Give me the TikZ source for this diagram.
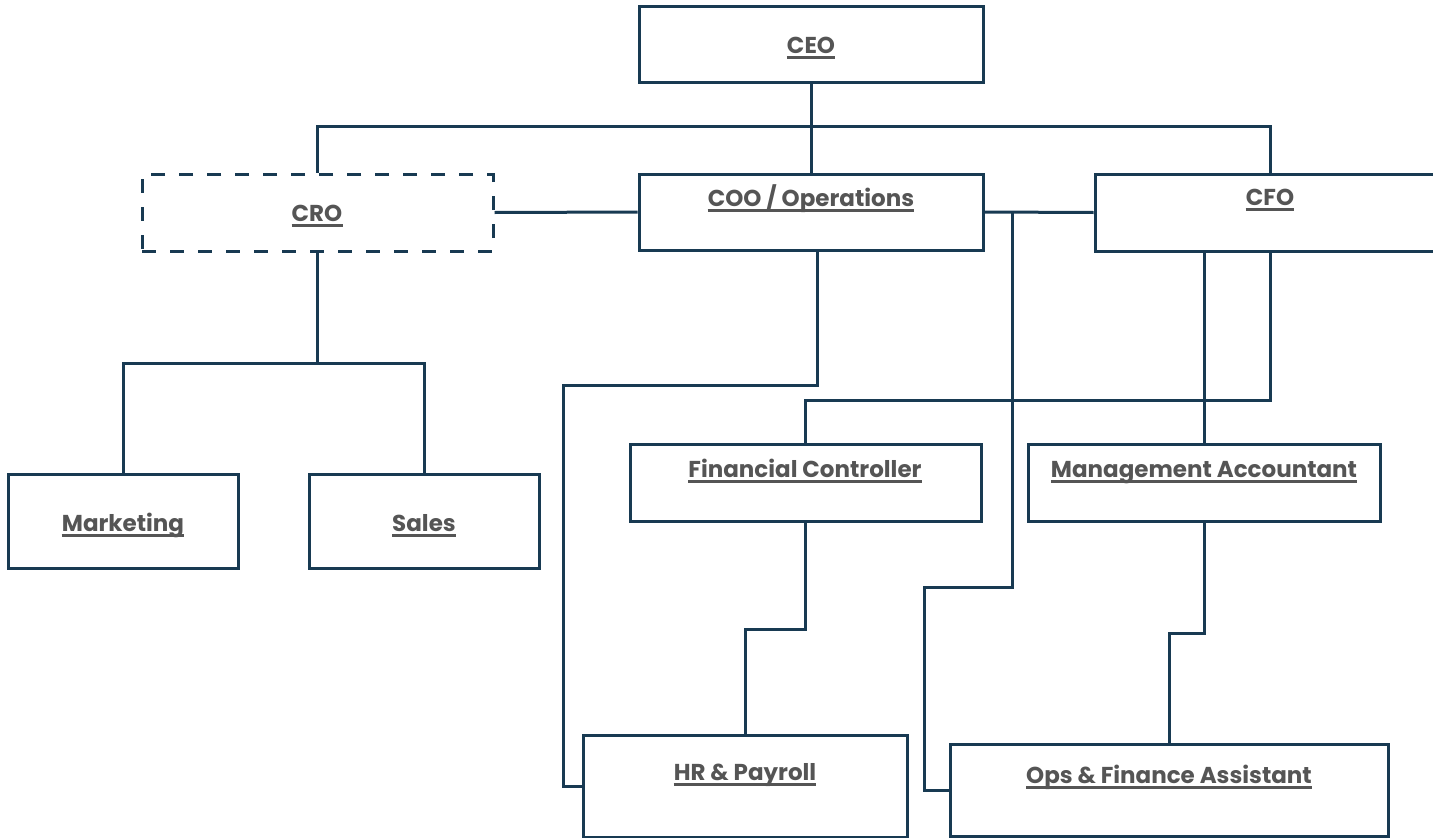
\documentclass[tikz,border=0pt]{standalone}
\usepackage{fontspec}
\setmainfont{Poppins}
\definecolor{linec}{HTML}{183A52}
\definecolor{textc}{HTML}{555555}
\tikzset{
  box/.style={draw=linec, line width=3pt, rectangle, inner sep=0pt, fill=white},
  dbox/.style={box, dash pattern=on 14pt off 14pt},
  conn/.style={draw=linec, line width=3pt},
  lbl/.style={text=textc, font=\fontsize{23}{26}\selectfont\bfseries, inner sep=0pt},
  ulline/.style={draw=textc, line width=2.6pt},
}
\newcommand\orglabel[3]{%
  \node[lbl, anchor=base] (#1) at (#2) {#3};
  \draw[ulline] ([yshift=-4.5pt]#1.base west) -- ([yshift=-4.5pt]#1.base east);}
\begin{document}
\begin{tikzpicture}[x=1pt, y=-1pt]
\useasboundingbox (0,0) rectangle (1433,838);
\clip (0,0) rectangle (1433,838);
% boxes
\node[box, minimum width=344pt, minimum height=76pt] (ceo) at (811,44) {};
\node[dbox, minimum width=351pt, minimum height=77pt] (cro) at (317.5,212.5) {};
\node[box, minimum width=344pt, minimum height=76pt] (coo) at (811,212) {};
\node[box, minimum width=350pt, minimum height=77pt] (cfo) at (1270,212.5) {};
\node[box, minimum width=230pt, minimum height=94pt] (mkt) at (123,521) {};
\node[box, minimum width=230pt, minimum height=94pt] (sales) at (424,521) {};
\node[box, minimum width=351pt, minimum height=77pt] (fc) at (805.5,482.5) {};
\node[box, minimum width=352pt, minimum height=77pt] (ma) at (1204,482.5) {};
\node[box, minimum width=324pt, minimum height=102pt] (hr) at (745,786) {};
\node[box, minimum width=438pt, minimum height=92pt] (ops) at (1169,790) {};
% connectors
\draw[conn] (ceo.south) -- (coo.north);
\draw[conn] (cro.north) -- ++(0,-46) -| (cfo.north);
\draw[conn] (cro.east) -- (coo.west);
\draw[conn] (coo.east) -- (cfo.west);
\draw[conn] (cro.south) -- ++(0,111) coordinate (crobus);
\draw[conn] (mkt.north) |- (crobus) -| (sales.north);
\coordinate (j1) at (1012,212);
\coordinate (j1b) at (924,587);
\draw[conn] (j1) |- (j1b) |- (ops.west);
\coordinate (j2) at (563,385);
\draw[conn] ([xshift=6pt]coo.south) |- (j2) |- (hr.west);
\draw[conn] (ma.north |- cfo.south) -- (ma.north);
\coordinate (j3) at (0,400);
\draw[conn] (cfo.south) |- (fc.north |- j3) -- (fc.north);
\draw[conn] (fc.south) -- ++(0,107) -| (hr.north);
\draw[conn] (ma.south) -- ++(0,111) -| (ops.north);
% labels
\orglabel{tceo}{811,53}{CEO}
\orglabel{tcro}{317,221}{CRO}
\orglabel{tcoo}{811,206}{COO / Operations}
\orglabel{tcfo}{1270,205}{CFO}
\orglabel{tmkt}{123,531}{Marketing}
\orglabel{tsales}{424,531}{Sales}
\orglabel{tfc}{805,477}{Financial Controller}
\orglabel{tma}{1204,477}{Management Accountant}
\orglabel{thr}{745,780}{HR \& Payroll}
\orglabel{tops}{1169,783}{Ops \& Finance Assistant}
\end{tikzpicture}
\end{document}
